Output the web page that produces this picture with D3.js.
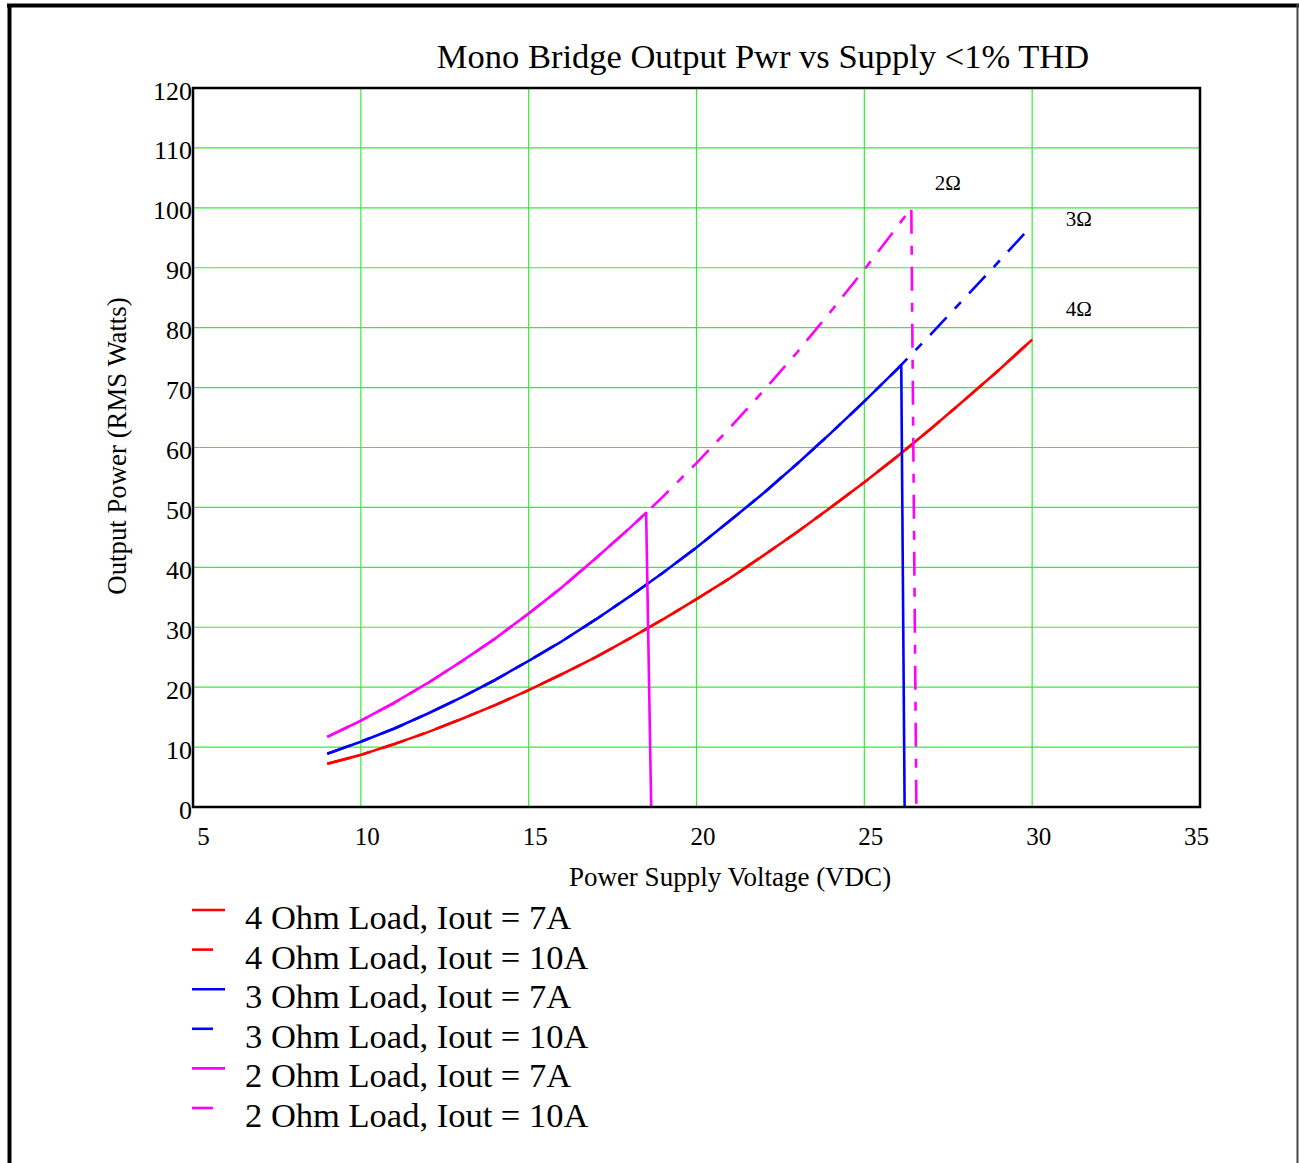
<!DOCTYPE html>
<html>
<head>
<meta charset="utf-8">
<script src="https://cdn.jsdelivr.net/npm/d3@7"></script>
<style>
  body { margin: 0; background: #fff; }
  text { font-family: "Liberation Serif", "Times New Roman", serif; fill: #000; }
</style>
</head>
<body>
<div id="chart"></div>
<script>
// Values
var xTicks = [5, 10, 15, 20, 25, 30, 35];
var yTicks = [0, 10, 20, 30, 40, 50, 60, 70, 80, 90, 100, 110, 120];

// 4 Ohm load (7A and 10A give the same curve)
var v4 = [9, 10, 11, 12, 13, 14, 15, 16, 17, 18, 19, 20, 21, 22, 23, 24, 25, 26, 27, 28, 29, 30];
var p4_7A = [7.2, 8.7, 10.5, 12.5, 14.7, 17.0, 19.5, 22.2, 25.0, 28.1, 31.3, 34.7, 38.2, 42.0, 45.9, 50.0, 54.2, 58.6, 63.2, 68.0, 72.9, 78.0];
var p4_10A = [7.2, 8.7, 10.5, 12.5, 14.7, 17.0, 19.5, 22.2, 25.0, 28.1, 31.3, 34.7, 38.2, 42.0, 45.9, 50.0, 54.2, 58.6, 63.2, 68.0, 72.9, 78.0];

// 3 Ohm load
var v3_7A = [9, 10, 11, 12, 13, 14, 15, 16, 17, 18, 19, 20, 21, 22, 23, 24, 25, 26, 26.1, 26.2];
var p3_7A = [8.9, 10.9, 13.1, 15.6, 18.3, 21.2, 24.4, 27.7, 31.3, 35.1, 39.1, 43.3, 47.8, 52.4, 57.3, 62.4, 67.7, 73.2, 73.8, 0];
var v3_10A = [9, 10, 11, 12, 13, 14, 15, 16, 17, 18, 19, 20, 21, 22, 23, 24, 25, 26, 27, 28, 29, 30];
var p3_10A = [8.9, 10.9, 13.1, 15.6, 18.3, 21.2, 24.4, 27.7, 31.3, 35.1, 39.1, 43.3, 47.8, 52.4, 57.3, 62.4, 67.7, 73.2, 79.0, 85.0, 91.0, 97.1];

// 2 Ohm load
var v2_7A = [9, 10, 11, 12, 13, 14, 15, 16, 17, 18, 18.5, 18.65];
var p2_7A = [11.7, 14.4, 17.4, 20.7, 24.3, 28.1, 32.3, 36.7, 41.5, 46.5, 49.1, 0];
var v2_10A = [9, 10, 11, 12, 13, 14, 15, 16, 17, 18, 18.5, 19, 20, 21, 22, 23, 24, 25, 26, 26.4, 26.55];
var p2_10A = [11.7, 14.4, 17.4, 20.7, 24.3, 28.1, 32.3, 36.7, 41.5, 46.5, 49.1, 51.8, 57.4, 63.3, 69.5, 75.9, 82.7, 89.7, 97.0, 100.0, 0];

var seriesNames = ["4 Ohm Load, Iout = 7A", "4 Ohm Load, Iout = 10A", "3 Ohm Load, Iout = 7A",
                   "3 Ohm Load, Iout = 10A", "2 Ohm Load, Iout = 7A", "2 Ohm Load, Iout = 10A"];
var seriesColors = ["#ff0000", "#ff0000", "#0000ff", "#0000ff", "#ff00ff", "#ff00ff"];
var seriesDashed = [false, true, false, true, false, true];
var seriesV = [v4, v4, v3_7A, v3_10A, v2_7A, v2_10A];
var seriesP = [p4_7A, p4_10A, p3_7A, p3_10A, p2_7A, p2_10A];

var loadLabels = ["2\u03A9", "3\u03A9", "4\u03A9"];
var loadLabelPos = [[27.1, 103], [31.0, 97], [31.0, 82]];

var W = 1299, H = 1163;
var margin = { top: 88, right: 99, bottom: 356, left: 193 };
var width = W - margin.left - margin.right;
var height = H - margin.top - margin.bottom;

var svg = d3.select("#chart").append("svg")
    .attr("width", W)
    .attr("height", H);

svg.append("rect").attr("width", W).attr("height", H).attr("fill", "#fff");

// outer frame
svg.append("line").attr("x1", 7).attr("x2", W).attr("y1", 5.5).attr("y2", 5.5)
    .attr("stroke", "#000").attr("stroke-width", 4);
svg.append("line").attr("x1", 9.5).attr("x2", 9.5).attr("y1", 4).attr("y2", H)
    .attr("stroke", "#000").attr("stroke-width", 4);
svg.append("line").attr("x1", 1297.5).attr("x2", 1297.5).attr("y1", 4).attr("y2", H)
    .attr("stroke", "#444").attr("stroke-width", 2);

var g = svg.append("g").attr("transform", `translate(${margin.left}, ${margin.top})`);

var x = d3.scaleLinear().domain([5, 35]).range([0, width]);
var y = d3.scaleLinear().domain([0, 120]).range([height, 0]);

// grid
g.selectAll(".vgrid").data(xTicks.slice(1, -1)).enter().append("line")
    .attr("x1", d => x(d)).attr("x2", d => x(d))
    .attr("y1", 0).attr("y2", height)
    .attr("stroke", "#33ee33").attr("stroke-width", 1.2);
g.selectAll(".hgrid").data(yTicks.slice(1, -1)).enter().append("line")
    .attr("x1", 0).attr("x2", width)
    .attr("y1", d => y(d)).attr("y2", d => y(d))
    .attr("stroke", "#33ee33").attr("stroke-width", 1.2);

// X-axis labels
var xAxis = g.append("g")
    .attr("transform", `translate(0, ${height})`)
    .call(d3.axisBottom(x).tickValues(xTicks).tickSize(0).tickPadding(0));
xAxis.select(".domain").remove();
xAxis.selectAll(".tick text")
    .attr("font-size", 25)
    .attr("font-family", "Liberation Serif")
    .attr("fill", "#000")
    .attr("dy", 0)
    .attr("y", 38)
    .attr("x", d => Math.min(Math.max(x(d) + 6, 10), width - 4) - x(d));

// Y-axis labels
var yAxis = g.append("g")
    .call(d3.axisLeft(y).tickValues(yTicks).tickSize(0).tickPadding(0));
yAxis.select(".domain").remove();
yAxis.selectAll(".tick text")
    .attr("font-size", 26)
    .attr("font-family", "Liberation Serif")
    .attr("fill", "#000")
    .attr("x", -1)
    .attr("dy", 11);

// lines
var line = d3.line().x(d => x(d[0])).y(d => y(d[1]));
seriesNames.forEach(function(name, i) {
    var pts = seriesV[i].map((v, j) => [v, seriesP[i][j]]);
    g.append("path")
        .datum(pts)
        .attr("fill", "none")
        .attr("stroke", seriesColors[i])
        .attr("stroke-width", 2.6)
        .attr("stroke-linejoin", "round")
        .attr("stroke-dasharray", seriesDashed[i] ? "24,12,9,12" : null)
        .attr("d", line);
});

// plot frame
g.append("rect")
    .attr("width", width).attr("height", height)
    .attr("fill", "none").attr("stroke", "#000").attr("stroke-width", 2.5);

// load labels
g.selectAll(".load").data(loadLabels).enter().append("text")
    .attr("x", (d, i) => x(loadLabelPos[i][0]))
    .attr("y", (d, i) => y(loadLabelPos[i][1]))
    .attr("font-size", 21)
    .text(d => d);

// title
svg.append("text")
    .attr("x", 763).attr("y", 68)
    .attr("text-anchor", "middle")
    .attr("font-size", 34.5)
    .text("Mono Bridge Output Pwr vs Supply <1% THD");

// axis titles
svg.append("text")
    .attr("x", 730).attr("y", 886)
    .attr("text-anchor", "middle")
    .attr("font-size", 27)
    .text("Power Supply Voltage (VDC)");
svg.append("text")
    .attr("transform", "translate(126, 446) rotate(-90)")
    .attr("text-anchor", "middle")
    .attr("font-size", 26.8)
    .text("Output Power (RMS Watts)");

// legend
var legend = svg.append("g").attr("transform", "translate(192, 910)");
var rows = legend.selectAll(".row").data(seriesNames).enter().append("g")
    .attr("transform", (d, i) => `translate(0, ${i * 39.6})`);
rows.append("line")
    .attr("x1", 0).attr("x2", (d, i) => seriesDashed[i] ? 21 : 33)
    .attr("y1", 0).attr("y2", 0)
    .attr("stroke", (d, i) => seriesColors[i])
    .attr("stroke-width", 2.6);
rows.append("text")
    .attr("x", 53).attr("y", 19)
    .attr("font-size", 34.5)
    .text(d => d);
</script>
</body>
</html>
